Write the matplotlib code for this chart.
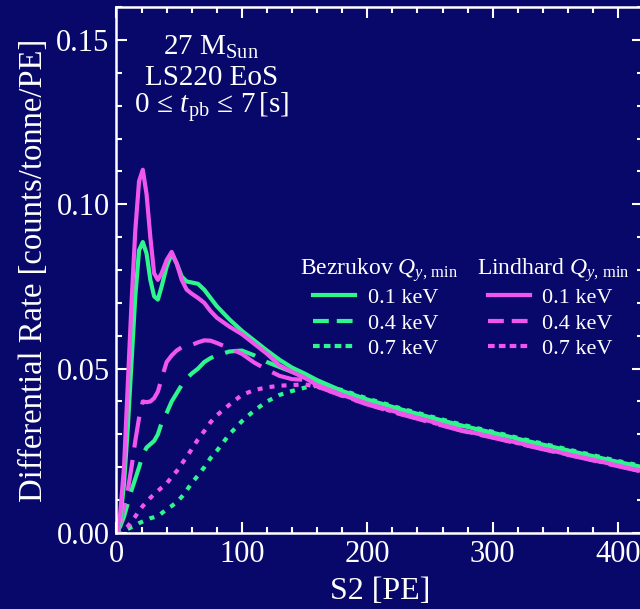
import matplotlib
matplotlib.use("Agg")
import matplotlib.pyplot as plt
from matplotlib.lines import Line2D
from matplotlib.ticker import MultipleLocator, FormatStrFormatter

plt.rcParams['font.family'] = ['Liberation Serif', 'DejaVu Serif']
plt.rcParams['mathtext.fontset'] = 'custom'
plt.rcParams['mathtext.rm'] = 'Liberation Serif'
plt.rcParams['mathtext.it'] = 'Liberation Serif:italic'
plt.rcParams['mathtext.bf'] = 'Liberation Serif:bold'

# data
s2 = [0, 3, 6, 9, 12, 15, 18, 21, 24, 27, 30, 33, 36, 40, 44, 48, 52, 56, 60, 65, 70,
      75, 80, 90, 100, 110, 120, 130, 140, 150, 160, 180, 200, 225, 250, 275, 300,
      325, 350, 375, 400, 420]

bez_01 = [0, 0.004, 0.015, 0.032, 0.052, 0.072, 0.086, 0.0885, 0.085, 0.077, 0.072,
          0.071, 0.075, 0.081, 0.085, 0.082, 0.078, 0.0765, 0.0762, 0.0758, 0.074,
          0.0715, 0.069, 0.065, 0.0615, 0.0585, 0.0555, 0.0527, 0.0503, 0.0485,
          0.0465, 0.0432, 0.0406, 0.0378, 0.0352, 0.0327, 0.0305, 0.0282, 0.0260,
          0.0238, 0.0216, 0.0200]
lin_01 = [0, 0.006, 0.02, 0.045, 0.07, 0.092, 0.107, 0.1105, 0.103, 0.09, 0.079,
          0.077, 0.079, 0.083, 0.0855, 0.082, 0.077, 0.074, 0.0728, 0.0715, 0.070,
          0.0675, 0.0655, 0.0628, 0.0605, 0.0575, 0.0545, 0.051, 0.049, 0.0472,
          0.045, 0.042, 0.0394, 0.0366, 0.034, 0.0313, 0.0292, 0.027, 0.0248,
          0.0227, 0.0205, 0.0188]
bez_04 = [0, 0.002, 0.005, 0.009, 0.013, 0.0165, 0.020, 0.0238, 0.026, 0.027, 0.028,
          0.030, 0.0335, 0.0365, 0.040, 0.0425, 0.045, 0.047, 0.0485, 0.050, 0.052,
          0.0532, 0.054, 0.0552, 0.0555, 0.054, 0.052, 0.0505, 0.049, 0.0478,
          0.046, 0.0431, 0.0404, 0.0376, 0.035, 0.0325, 0.0303, 0.028, 0.0258,
          0.0236, 0.0214, 0.0198]
lin_04 = [0, 0.003, 0.008, 0.013, 0.02, 0.028, 0.035, 0.040, 0.0398, 0.040, 0.041,
          0.043, 0.047, 0.052, 0.054, 0.0555, 0.0565, 0.0568, 0.0572, 0.058, 0.0586,
          0.0585, 0.0578, 0.0562, 0.0545, 0.0518, 0.0497, 0.0478, 0.0468, 0.0466,
          0.0446, 0.0417, 0.0391, 0.0363, 0.0337, 0.0311, 0.029, 0.0268, 0.0246,
          0.0225, 0.0203, 0.0186]
bez_07 = [0, 0.0002, 0.0006, 0.0012, 0.0018, 0.0023, 0.003, 0.0035, 0.004, 0.0045,
          0.0048, 0.0052, 0.006, 0.0072, 0.0082, 0.0094, 0.011, 0.013, 0.0152,
          0.0175, 0.020, 0.0228, 0.025, 0.030, 0.034, 0.0373, 0.040, 0.042, 0.0432,
          0.0442, 0.0448, 0.0435, 0.0409, 0.0381, 0.0355, 0.033, 0.0308, 0.0285,
          0.0263, 0.0241, 0.0219, 0.0203]
lin_07 = [0, 0.0003, 0.001, 0.002, 0.0035, 0.005, 0.0068, 0.0082, 0.0095, 0.0107,
          0.0118, 0.0128, 0.0138, 0.015, 0.0171, 0.0188, 0.021, 0.0232, 0.0255,
          0.0285, 0.031, 0.0337, 0.0358, 0.039, 0.042, 0.0435, 0.0443, 0.0448,
          0.045, 0.0452, 0.0445, 0.0418, 0.0392, 0.0364, 0.0338, 0.0312, 0.0291,
          0.0269, 0.0247, 0.0226, 0.0204, 0.0187]

labels = ['0.1 keV', '0.4 keV', '0.7 keV']

bg = '#08086a'
green = '#2ef58c'
magenta = '#f055ee'
lw = 3.0
dash = (0, (7.5, 3))
dot = (0, (1.2, 1.7))

fig = plt.figure(figsize=(6.4, 6.09), dpi=100)
fig.patch.set_facecolor(bg)
ax = fig.add_axes([0.182, 0.1248, 0.823, 0.8637])
ax.set_facecolor(bg)

ax.plot(s2, bez_07, color=green, lw=lw, linestyle=dot, dash_capstyle='butt')
ax.plot(s2, lin_07, color=magenta, lw=lw, linestyle=dot, dash_capstyle='butt')
ax.plot(s2, bez_04, color=green, lw=lw, linestyle=dash, dash_capstyle='butt')
ax.plot(s2, lin_04, color=magenta, lw=lw, linestyle=dash, dash_capstyle='butt')
ax.plot(s2, bez_01, color=green, lw=lw)
ax.plot(s2, lin_01, color=magenta, lw=lw)

ax.set_xlim(0, 420)
ax.set_ylim(0, 0.16)
ax.xaxis.set_major_locator(MultipleLocator(100))
ax.xaxis.set_minor_locator(MultipleLocator(20))
ax.yaxis.set_major_locator(MultipleLocator(0.05))
ax.yaxis.set_minor_locator(MultipleLocator(0.01))
ax.yaxis.set_major_formatter(FormatStrFormatter('%.2f'))

for sp in ax.spines.values():
    sp.set_color('white')
    sp.set_linewidth(1.8)
ax.tick_params(which='both', direction='in', top=True, right=True, colors='white',
               labelsize=22, width=1.5)
ax.tick_params(which='major', length=8, pad=5)
ax.tick_params(which='minor', length=4.5)

ax.set_xlabel('S2 [PE]', color='white', fontsize=23, labelpad=6)
ax.set_ylabel('Differential Rate [counts/tonne/PE]', color='white', fontsize=23.5,
              labelpad=5)

txt = dict(transform=ax.transAxes, color='white', fontsize=21, ha='center',
           va='baseline')
ax.text(0.18, 0.9087, r'27 M$_{\mathrm{Sun}}$', **txt)
ax.text(0.18, 0.8517, 'LS220 EoS', **txt)
ax.text(0.18, 0.7985, r'$0\,\leq\,t_{\mathrm{pb}}\,\leq\,7\,$[s]', **txt)

leg_dash = (0, (3.8, 1.9))
leg_dot = (0, (1.6, 1.0))
styles = ['-', leg_dash, leg_dot]


def make_legend(color, title, xtitle, xpos):
    ax.text(xtitle, 0.4905, title, transform=ax.transAxes, color='white',
            fontsize=17, ha='left', va='baseline')
    handles = [Line2D([], [], color=color, lw=lw, linestyle=s, dash_capstyle='butt')
               for s in styles]
    leg = ax.legend(handles, labels, loc='upper left',
                    bbox_to_anchor=(xpos, 0.4665), frameon=False, fontsize=16,
                    borderpad=0, handlelength=1.9, handletextpad=0.55,
                    labelspacing=0.22, borderaxespad=0)
    for t in leg.get_texts():
        t.set_color('white')
    return leg


leg1 = make_legend(green, r'Bezrukov $Q_{y,\,\mathrm{min}}$', 0.349, 0.3736)
ax.add_artist(leg1)
make_legend(magenta, r'Lindhard $Q_{y,\,\mathrm{min}}$', 0.685, 0.7044)

fig.savefig('out.png', dpi=100, facecolor=bg)
